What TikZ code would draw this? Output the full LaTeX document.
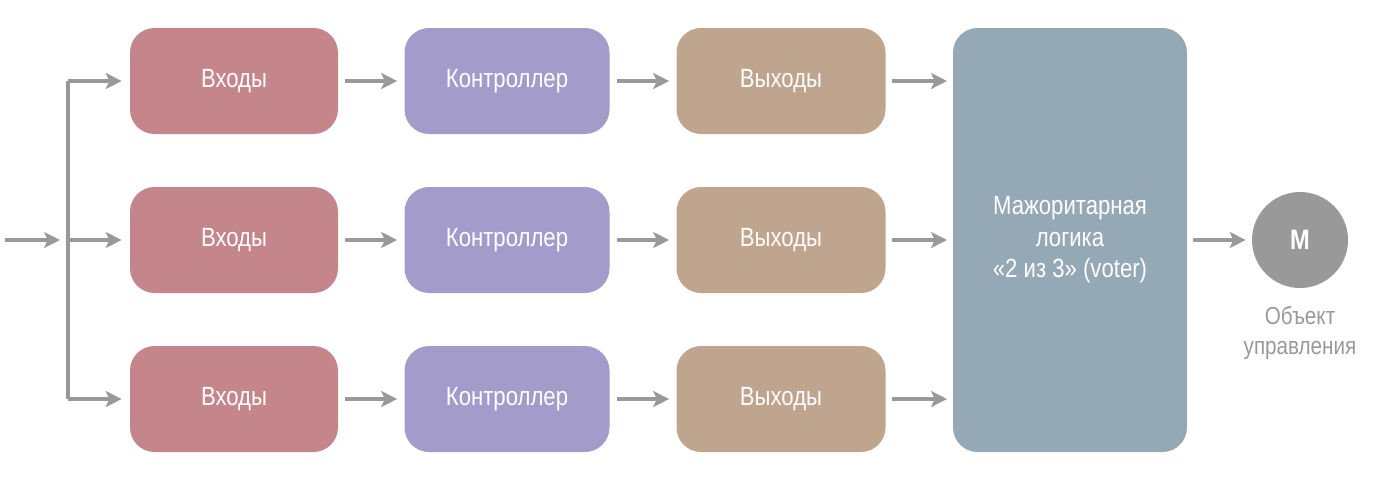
\documentclass[tikz,border=0pt]{standalone}
\usepackage{fontspec}
\setmainfont[FakeStretch=0.84]{Liberation Sans}
\usetikzlibrary{arrows.meta}
\definecolor{inclr}{HTML}{C4868A}
\definecolor{ctrlclr}{HTML}{A39BCA}
\definecolor{outclr}{HTML}{BFA48E}
\definecolor{votclr}{HTML}{95A8B6}
\definecolor{arrclr}{HTML}{999999}
\newlength{\px}\setlength{\px}{0.02cm}
\tikzset{
  blk/.style={rectangle,rounded corners=14pt,minimum width=208\px,minimum height=106\px,
    text=white,font=\fontsize{15}{18}\selectfont,inner sep=0pt},
  arr/.style={draw=arrclr,line width=2.2pt,-{Stealth[length=9pt,width=9pt,inset=2pt]}},
}
\begin{document}
\begin{tikzpicture}[x=0.02cm,y=-0.02cm]
\useasboundingbox (0,0) rectangle (1388,478);
\foreach \r/\y in {1/81,2/240,3/399} {
  \node[blk,fill=inclr] (in\r) at (234,\y) {Входы};
  \node[blk,fill=ctrlclr,minimum width=205\px] (ctrl\r) at (507,\y) {Контроллер};
  \node[blk,fill=outclr,minimum width=209\px] (out\r) at (781,\y) {Выходы};
  \coordinate (split\r) at (68,\y);
  \coordinate (vin\r) at (947,\y);
}
\node[blk,fill=votclr,minimum width=234\px,minimum height=424\px,align=center]
  (voter) at (1070,240) {Мажоритарная\\логика\\«2 из 3» (voter)};
\node[circle,fill=arrclr,minimum size=96\px,text=white,inner sep=0pt,
  font=\fontsize{16}{18}\selectfont\bfseries] (motor) at (1300,240) {M};
\node[text=arrclr,align=center,font=\fontsize{14}{17}\selectfont,anchor=north]
  (objlbl) at ([yshift=-12\px]motor.south) {Объект\\управления};
\coordinate (src) at (5,240);
% input fan-out
\draw[arr] (src) -- (60,240);
\draw[draw=arrclr,line width=2.2pt] (split1) -- (split3);
\foreach \r in {1,2,3} {
  \draw[arr] (split\r) -- ([xshift=-8\px]in\r.west);
  \draw[arr] ([xshift=7\px]in\r.east) -- ([xshift=-7\px]ctrl\r.west);
  \draw[arr] ([xshift=7\px]ctrl\r.east) -- ([xshift=-7\px]out\r.west);
  \draw[arr] ([xshift=6\px]out\r.east) -- (vin\r);
}
\draw[arr] ([xshift=6\px]voter.east) -- ([xshift=-6\px]motor.west);
\end{tikzpicture}
\end{document}
